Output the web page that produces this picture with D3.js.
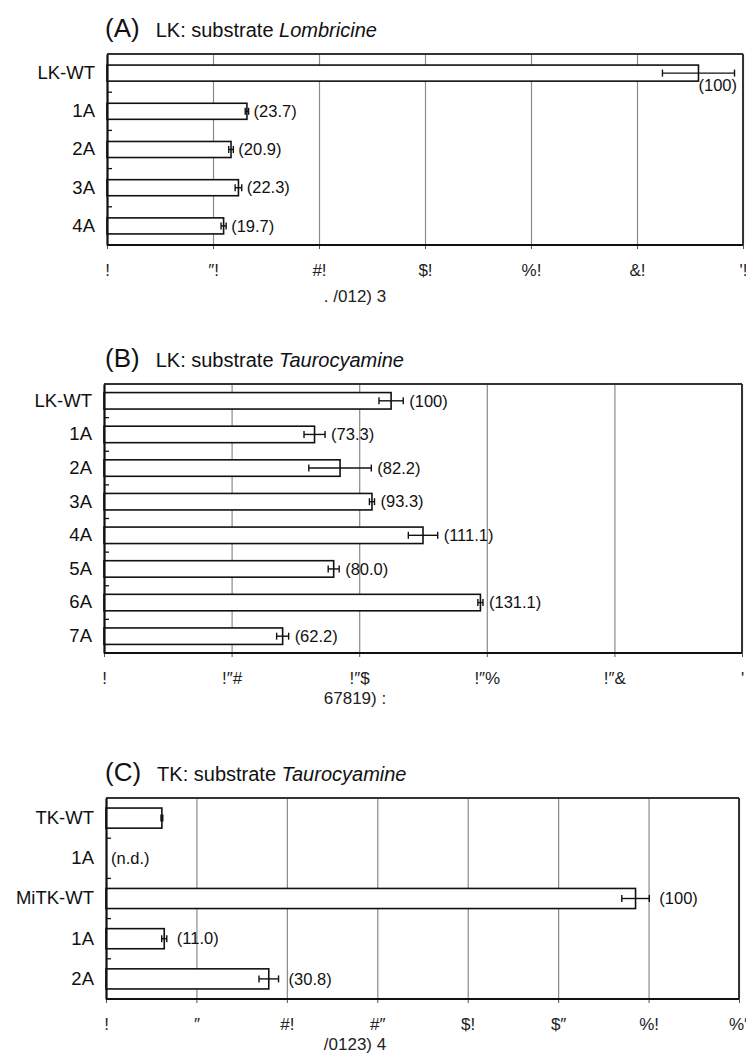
<!DOCTYPE html>
<html><head><meta charset="utf-8">
<script src="https://cdn.jsdelivr.net/npm/d3@7"></script>
<style>
body{margin:0;background:#fff;}
svg{display:block;}
</style></head>
<body>
<svg id="chart" width="746" height="1059"></svg>
<script>
// ---------- DATA ----------
// Panel A: LK, substrate Lombricine
const catsA = ["LK-WT", "1A", "2A", "3A", "4A"];
const valsA = [55.8, 13.2, 11.7, 12.4, 11.0];
const errsA = [3.4, 0.16, 0.22, 0.31, 0.24];
const lblsA = ["(100)", "(23.7)", "(20.9)", "(22.3)", "(19.7)"];
const ticksA = [0, 10, 20, 30, 40, 50, 60];
const tickLblsA = ["!", "\u2033!", "#!", "$!", "%!", "&!", "'!"];
const axisTitleA = ". /012) 3";
const titleA = ["(A)", "LK: substrate ", "Lombricine"];

// Panel B: LK, substrate Taurocyamine
const catsB = ["LK-WT", "1A", "2A", "3A", "4A", "5A", "6A", "7A"];
const valsB = [0.450, 0.330, 0.370, 0.420, 0.500, 0.360, 0.590, 0.280];
const errsB = [0.019, 0.0165, 0.049, 0.004, 0.023, 0.0086, 0.004, 0.0094];
const lblsB = ["(100)", "(73.3)", "(82.2)", "(93.3)", "(111.1)", "(80.0)", "(131.1)", "(62.2)"];
const ticksB = [0, 0.2, 0.4, 0.6, 0.8, 1.0];
const tickLblsB = ["!", "!\u2033#", "!\u2033$", "!\u2033%", "!\u2033&", "'"];
const axisTitleB = "67819) :";
const titleB = ["(B)", "LK: substrate ", "Taurocyamine"];

// Panel C: TK, substrate Taurocyamine
const catsC = ["TK-WT", "1A", "MiTK-WT", "1A", "2A"];
const valsC = [3.09, null, 29.28, 3.22, 9.0];
const errsC = [0.05, null, 0.76, 0.14, 0.54];
const lblsC = ["", "(n.d.)", "(100)", "(11.0)", "(30.8)"];
const ticksC = [0, 5, 10, 15, 20, 25, 30, 35];
const tickLblsC = ["!", "\u2033", "#!", "#\u2033", "$!", "$\u2033", "%!", "%\u2033"];
const axisTitleC = "/0123) 4";
const titleC = ["(C)", "TK: substrate ", "Taurocyamine"];

// ---------- LAYOUT ----------
const panels = [
  {cats: catsA, vals: valsA, errs: errsA, lbls: lblsA, ticks: ticksA, tickLbls: tickLblsA,
   axisTitle: axisTitleA, title: titleA,
   left: 107, right: 743, top: 54, bottom: 245, pad: 0.58, lblGap: 5, titleOff: 57},
  {cats: catsB, vals: valsB, errs: errsB, lbls: lblsB, ticks: ticksB, tickLbls: tickLblsB,
   axisTitle: axisTitleB, title: titleB,
   left: 104, right: 742, top: 384, bottom: 653, pad: 0.51, lblGap: 6, titleOff: 51},
  {cats: catsC, vals: valsC, errs: errsC, lbls: lblsC, ticks: ticksC, tickLbls: tickLblsC,
   axisTitle: axisTitleC, title: titleC,
   left: 106, right: 739, top: 798, bottom: 999, pad: 0.5, lblGap: 10, titleOff: 51}
];

const svg = d3.select("#chart");
const FONT = "'Liberation Sans', Arial, Helvetica, sans-serif";
const NARROW = "'Liberation Sans Narrow', 'Arial Narrow', sans-serif";

panels.forEach(p => {
  const g = svg.append("g");
  const x = d3.scaleLinear().domain([p.ticks[0], p.ticks[p.ticks.length - 1]]).range([p.left, p.right]);
  const y = d3.scaleBand().domain(d3.range(p.cats.length)).range([p.top, p.bottom])
    .paddingInner(p.pad).paddingOuter(p.pad / 2);
  const step = y.step();

  // gridlines
  const grid = g.append("g").attr("transform", `translate(0,${p.bottom})`)
    .call(d3.axisBottom(x).tickValues(p.ticks).tickSize(-(p.bottom - p.top)).tickFormat(""));
  grid.select(".domain").remove();
  grid.selectAll(".tick line").attr("stroke", "#8a8a8a").attr("stroke-width", 1.2);

  // tick labels + small outer ticks
  const ax = g.append("g").attr("transform", `translate(0,${p.bottom})`)
    .call(d3.axisBottom(x).tickValues(p.ticks).tickSize(4).tickPadding(15)
      .tickFormat((d, i) => p.tickLbls[i]));
  ax.select(".domain").remove();
  ax.selectAll(".tick line").attr("stroke", "#555");
  ax.selectAll(".tick text").attr("font-family", NARROW).attr("font-size", 17)
    .attr("fill", "#222").attr("dy", "0.71em");

  // axis title
  g.append("text").attr("x", 355).attr("y", p.bottom + p.titleOff)
    .attr("text-anchor", "middle").attr("font-family", NARROW).attr("font-size", 17)
    .attr("fill", "#222").text(p.axisTitle);

  // bars
  const idx = d3.range(p.cats.length).filter(i => p.vals[i] !== null);
  g.selectAll("rect.bar").data(idx).join("rect").attr("class", "bar")
    .attr("x", x(0)).attr("y", i => y(i))
    .attr("width", i => x(p.vals[i]) - x(0)).attr("height", y.bandwidth())
    .attr("fill", "#fff").attr("stroke", "#111").attr("stroke-width", 1.6);

  // error bars
  const cy = i => y(i) + y.bandwidth() / 2;
  const eb = g.selectAll("g.eb").data(idx).join("g").attr("class", "eb")
    .attr("stroke", "#111").attr("stroke-width", 1.4);
  eb.append("line").attr("x1", i => x(p.vals[i] - p.errs[i])).attr("x2", i => x(p.vals[i] + p.errs[i]))
    .attr("y1", cy).attr("y2", cy);
  eb.append("line").attr("x1", i => x(p.vals[i] - p.errs[i])).attr("x2", i => x(p.vals[i] - p.errs[i]))
    .attr("y1", i => cy(i) - 3.5).attr("y2", i => cy(i) + 3.5);
  eb.append("line").attr("x1", i => x(p.vals[i] + p.errs[i])).attr("x2", i => x(p.vals[i] + p.errs[i]))
    .attr("y1", i => cy(i) - 3.5).attr("y2", i => cy(i) + 3.5);

  // frame
  g.append("line").attr("x1", p.left).attr("x2", p.right).attr("y1", p.top).attr("y2", p.top)
    .attr("stroke", "#333").attr("stroke-width", 2);
  g.append("line").attr("x1", p.right).attr("x2", p.right).attr("y1", p.top).attr("y2", p.bottom)
    .attr("stroke", "#333").attr("stroke-width", 2);
  g.append("line").attr("x1", p.left).attr("x2", p.right).attr("y1", p.bottom).attr("y2", p.bottom)
    .attr("stroke", "#111").attr("stroke-width", 2.2);

  // left axis with category labels
  const la = g.append("g").attr("transform", `translate(${p.left},0)`)
    .call(d3.axisLeft(y).tickSize(0).tickPadding(12).tickFormat(i => p.cats[i]));
  la.select(".domain").attr("stroke", "#111").attr("stroke-width", 2.2);
  la.selectAll(".tick text").attr("font-family", FONT).attr("font-size", 18.5).attr("fill", "#111");
  // inner ticks at category boundaries
  g.selectAll("line.btick").data(d3.range(1, p.cats.length)).join("line").attr("class", "btick")
    .attr("x1", p.left).attr("x2", p.left + 5)
    .attr("y1", k => p.top + k * step).attr("y2", k => p.top + k * step)
    .attr("stroke", "#111").attr("stroke-width", 1.3);

  // value labels
  d3.range(p.cats.length).forEach(i => {
    if (!p.lbls[i]) return;
    const t = g.append("text").attr("font-family", FONT).attr("font-size", 16.5).attr("fill", "#111")
      .attr("dy", "0.35em").text(p.lbls[i]);
    if (p.vals[i] === null) {
      t.attr("x", x(0) + 5).attr("y", cy(i));
      return;
    }
    let lx = x(p.vals[i] + p.errs[i]) + p.lblGap;
    const w = t.node().getComputedTextLength();
    if (lx + w > p.right) {
      t.attr("x", x(p.vals[i])).attr("y", cy(i) + 12);
    } else {
      t.attr("x", lx).attr("y", cy(i));
    }
  });

  // panel title
  const tt = g.append("text").attr("y", p.top - 17).attr("font-family", FONT).attr("fill", "#111");
  tt.append("tspan").attr("x", 105).attr("font-size", 26).text(p.title[0]);
  tt.append("tspan").attr("dx", 16).attr("font-size", 20).text(p.title[1]);
  tt.append("tspan").attr("font-size", 20).attr("font-style", "italic").text(p.title[2]);
});
</script>
</body></html>
